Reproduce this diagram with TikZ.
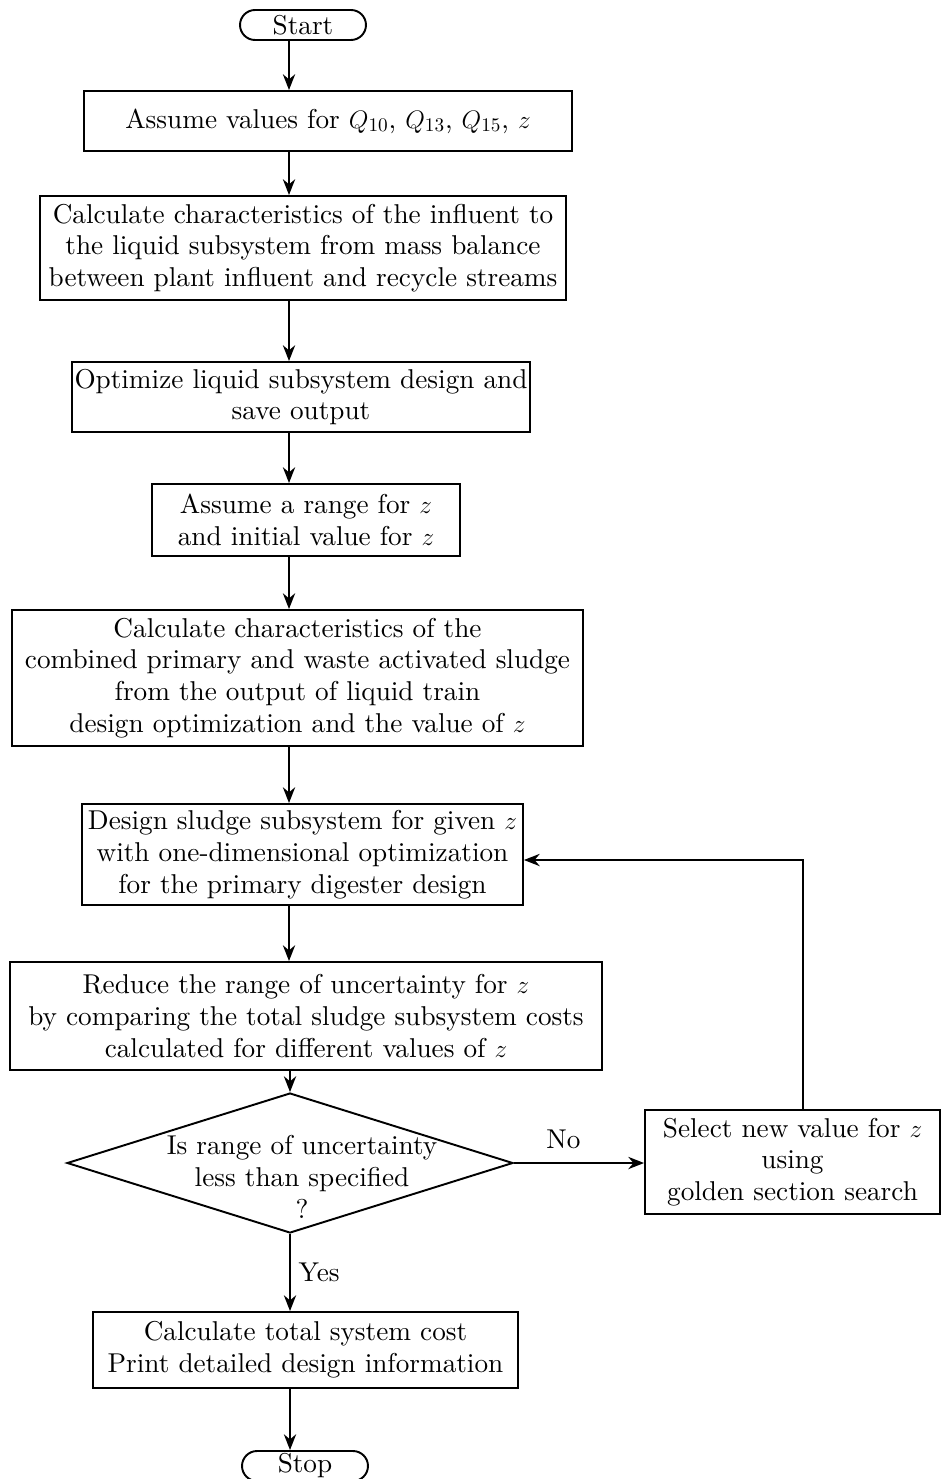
\documentclass[tikz,border=0pt]{standalone}
\usepackage{amssymb}
\usepackage{fontspec}
\setmainfont{lmroman10-regular.otf}
\usetikzlibrary{arrows.meta}
\usetikzlibrary{shapes.geometric}
\usetikzlibrary{calc}

\tikzset{
	tag/.style={font=\fontsize{15.5}{18.1}\selectfont, align=center},
	proc/.style={tag, draw, line width=1.1pt, inner sep=0pt},
	term/.style={proc, rounded corners=0.3cm, minimum width=2.52cm, minimum height=0.6cm},
	test/.style={draw, line width=1.1pt, diamond, inner sep=0pt, minimum width=8.92cm, minimum height=2.8cm},
	flow/.style={line width=1.1pt, -{Stealth[length=9pt,width=7pt]}}
}

\begin{document}
\begin{tikzpicture}[x=0.02cm, y=-0.02cm]
	\useasboundingbox (0,0) rectangle (944,1479);
	\coordinate (spine) at (289,0);
	
	\node[term] (start) at (303,25) {Start};
	\node[proc, minimum width=9.76cm, minimum height=1.2cm] (assume) at (328,121) {Assume values for $Q_{10}$, $Q_{13}$, $Q_{15}$, $z$};
	\node[proc, minimum width=10.52cm, minimum height=2.08cm] (influent) at (303,248) {Calculate characteristics of the influent to\\the liquid subsystem from mass balance\\between plant influent and recycle streams};
	\node[proc, minimum width=9.16cm, minimum height=1.4cm] (liquid) at (301,397) {Optimize liquid subsystem design and\\save output};
	\node[proc, minimum width=6.16cm, minimum height=1.44cm] (range) at (306,520) {Assume a range for $z$\\and initial value for $z$};
	\node[proc, minimum width=11.42cm, minimum height=2.72cm] (sludge) at (297.5,678) {Calculate characteristics of the\\combined primary and waste activated sludge\\from the output of liquid train\\design optimization and the value of $z$};
	\node[proc, minimum width=8.82cm, minimum height=2.02cm] (design) at (302.5,854.5) {Design sludge subsystem for given $z$\\with one-dimensional optimization\\for the primary digester design};
	\node[proc, minimum width=11.84cm, minimum height=2.16cm] (reduce) at (306,1016) {Reduce the range of uncertainty for $z$\\by comparing the total sludge subsystem costs\\calculated for different values of $z$};
	\node[test] (check) at (290,1163) {};
	\node[tag] (checktext) at ($(check)+(12,14)$) {Is range of uncertainty\\less than specified\\?};
	\node[proc, minimum width=5.9cm, minimum height=2.08cm] (select) at (792.5,1162) {Select new value for $z$\\using\\golden section search};
	\node[proc, minimum width=8.5cm, minimum height=1.52cm] (total) at (305.5,1350) {Calculate total system cost\\Print detailed design information};
	\node[term] (stop) at (305,1466) {Stop};
	
	\coordinate (fb) at (803,860);
	
	\draw[flow] (start.south -| spine) -- (assume.north -| spine);
	\draw[flow] (assume.south -| spine) -- (influent.north -| spine);
	\draw[flow] (influent.south -| spine) -- (liquid.north -| spine);
	\draw[flow] (liquid.south -| spine) -- (range.north -| spine);
	\draw[flow] (range.south -| spine) -- (sludge.north -| spine);
	\draw[flow] (sludge.south -| spine) -- (design.north -| spine);
	\draw[flow] (design.south -| spine) -- (reduce.north -| spine);
	\draw[flow] (reduce.south -| check.north) -- (check.north);
	\draw[flow] (check.east) -- node[tag, above=4pt, pos=0.38] {No} (check.east -| select.west);
	\draw[flow] (select.north -| fb) -- (fb) -- (fb -| design.east);
	\draw[flow] (check.south) -- node[tag, right=1pt] {Yes} (total.north -| check.south);
	\draw[flow] (total.south -| check.south) -- (stop.north -| check.south);
\end{tikzpicture}
\end{document}
